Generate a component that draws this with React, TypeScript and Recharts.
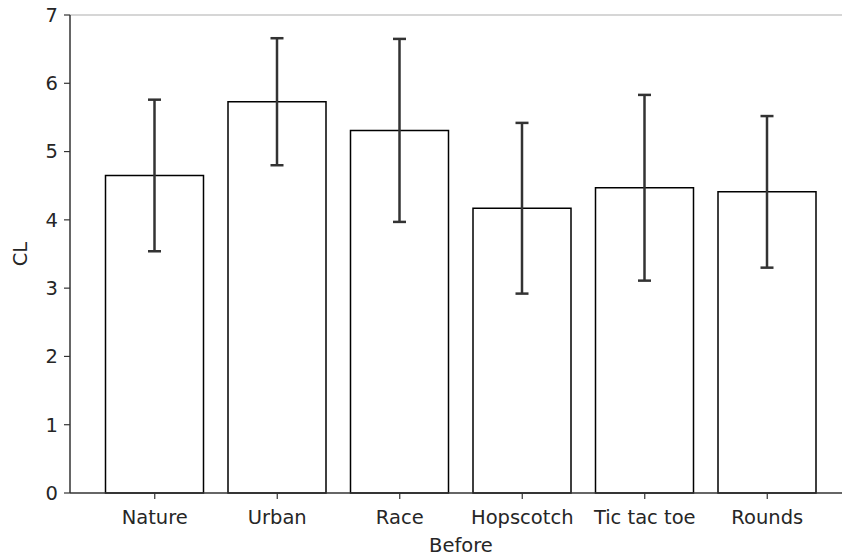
import { BarChart, Bar, XAxis, YAxis, ErrorBar, ReferenceLine } from "recharts";

const games = ["Nature", "Urban", "Race", "Hopscotch", "Tic tac toe", "Rounds"];
const clMeans = [4.65, 5.73, 5.31, 4.17, 4.47, 4.41];
const clErrors = [1.11, 0.93, 1.34, 1.25, 1.36, 1.11];
const yTicks = [0, 1, 2, 3, 4, 5, 6, 7];

const data = games.map((name, i) => ({ name, cl: clMeans[i], err: clErrors[i] }));

const font = "'DejaVu Sans', sans-serif";
const textColor = "#262626";
const fs = 19.5;

const App = () => {
  return (
    <div style={{ position: "absolute", left: 0, top: 0, width: 842, height: 559, overflow: "hidden", background: "#fff" }}>
      <BarChart width={860} height={559} data={data} margin={{ top: 15, right: 8, left: 0, bottom: 0 }}>
        <ReferenceLine y={7} stroke="#c8c8c8" strokeWidth={1.5} ifOverflow="visible" />
        <XAxis
          dataKey="name"
          height={66}
          padding={{ left: 23.5, right: 23.5 }}
          axisLine={{ stroke: "#333", strokeWidth: 1.5 }}
          tickLine={{ stroke: "#333", strokeWidth: 1.2 }}
          tickSize={6}
          tickMargin={11}
          tick={{ fill: textColor, fontSize: fs, fontFamily: font }}
          interval={0}
          label={(p: any) => {
            const vb = p.viewBox || {};
            return (
              <text x={vb.x + vb.width / 2} y={552} textAnchor="middle" fill={textColor} fontSize={fs} fontFamily={font}>
                Before
              </text>
            );
          }}
        />
        <YAxis
          width={70}
          domain={[0, 7]}
          ticks={yTicks}
          interval={0}
          axisLine={{ stroke: "#333", strokeWidth: 1.5 }}
          tickLine={{ stroke: "#333", strokeWidth: 1.2 }}
          tickSize={6}
          tickMargin={6}
          tick={{ fill: textColor, fontSize: fs, fontFamily: font }}
          label={(p: any) => {
            const vb = p.viewBox || {};
            const cx = 20;
            const cy = vb.y + vb.height / 2;
            return (
              <text x={cx} y={cy} transform={`rotate(-90, ${cx}, ${cy})`} textAnchor="middle" dominantBaseline="central" fill={textColor} fontSize={fs} fontFamily={font}>
                CL
              </text>
            );
          }}
        />
        <Bar dataKey="cl" fill="#fff" stroke="#000" strokeWidth={1.5} barSize={98} isAnimationActive={false}>
          <ErrorBar dataKey="err" direction="y" width={6.5} stroke="#333" strokeWidth={2.5} />
        </Bar>
      </BarChart>
    </div>
  );
};

export default App;
